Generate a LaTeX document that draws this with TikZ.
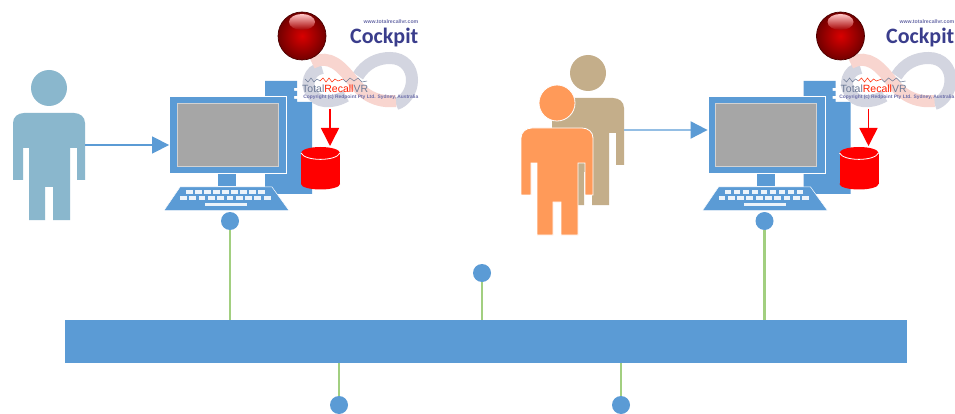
\documentclass[tikz,border=0pt]{standalone}
\usepackage{fontspec}
\setmainfont{Liberation Sans}
\newfontfamily\logofont{Carlito}
\usetikzlibrary{arrows.meta,shadings,shapes.geometric}
\definecolor{pcblue}{HTML}{5B9BD5}
\definecolor{linkgreen}{HTML}{A2CF80}
\definecolor{teal}{HTML}{8AB7CD}
\definecolor{tan}{HTML}{C4AE8A}
\definecolor{orng}{HTML}{FF9A59}
\definecolor{navy}{HTML}{3A3D8C}
\definecolor{infgray}{HTML}{D3D5E0}
\definecolor{infpink}{HTML}{F8D5CF}
\definecolor{wavegray}{HTML}{6C7A96}
\tikzset{
  x=1pt,y=-1pt,
  dot/.style={circle,fill=pcblue,draw=none,minimum size=18pt,inner sep=0pt},
  link/.style={draw=linkgreen,line width=2.2pt},
  flow/.style={draw=pcblue,line width=1.4pt,-{Triangle[length=17pt,width=17pt]}},
  flowlight/.style={draw=pcblue!65,line width=2pt,-{Triangle[length=17pt,width=17pt,color=pcblue]}},
  holder/.style={draw=none,inner sep=0pt},
  logosmall/.style={text=navy!75,inner sep=0pt},
  person/.pic={
    \fill[pic actions] (0,0) circle [radius=18pt];
    \path[pic actions] (-36,35) .. controls (-36,29) and (-31,25) .. (-25,25) -- (25,25)
      .. controls (31,25) and (36,29) .. (36,35) -- (36,92) -- (28,92) -- (28,60) -- (21,60)
      -- (21,132) -- (4,132) -- (4,99) -- (-4,99) -- (-4,132) -- (-20,132) -- (-20,60)
      -- (-26,60) -- (-26,92) -- (-36,92) -- cycle;
    \node[holder,minimum width=72pt,minimum height=107pt] (body) at (0,78.5) {};
  },
  logotext/.pic={
    \node[logosmall,font=\fontsize{5.2}{5.2}\selectfont\bfseries,anchor=east] (web) at (418.5,22) {www.totalrecallvr.com};
    \node[text=navy,inner sep=0pt,font=\logofont\fontsize{22}{22}\selectfont\bfseries,anchor=east] (cockpit) at (418.5,38) {Cockpit};
    \node[logosmall,font=\fontsize{4.9}{4.9}\selectfont\bfseries,anchor=east] (copy) at (418.5,97) {Copyright (c) Redpoint Pty Ltd. Sydney, Australia};
  },
  computer/.pic={
    % tower
    \fill[pcblue] (265,81) -- (297,81) -- (297,88) -- (294,88) -- (294,91) -- (297,91)
      -- (297,96) -- (294,96) -- (294,99) -- (297,99) -- (297,102) -- (312,102) -- (312,194) -- (265,194) -- cycle;
    % monitor
    \node[holder,fill=pcblue,draw=white,line width=0.8pt,minimum width=117pt,minimum height=77pt] (mon) at (228,135) {};
    \fill[gray!70,draw=gray!35,line width=1pt] (177,104) rectangle (278,167);
    \fill[pcblue] (218,174) rectangle (236,186);
    % keyboard
    \fill[pcblue,draw=white,line width=0.5pt] (180,187) -- (272,187) -- (289,210.5) -- (164,210.5) -- cycle;
    \foreach \k in {0,...,8} \fill[white!88!pcblue] ({186+\k*9},190.5) rectangle +(6.5,3.2);
    \foreach \k in {0,...,9} \fill[white!88!pcblue] ({180+\k*9.3},196.5) rectangle +(6.8,3.2);
    \fill[white!88!pcblue] (205,202.5) rectangle (247,206);
    % infinity logo
    \draw[infgray,line width=12pt] (358,76) .. controls (366,63) and (378,58) .. (390,58)
      .. controls (404,58) and (412,68) .. (412,80) .. controls (412,92) and (404,102) .. (396,104);
    \draw[infgray,line width=12pt] (322,68) .. controls (308,70) and (306,86) .. (311,92)
      .. controls (316,103) and (332,104) .. (346,96);
    \draw[infpink,line width=12pt] (312,63) .. controls (330,53) and (342,68) .. (352,80)
      .. controls (362,94) and (376,103) .. (396,101);
    % recording ball
    \shade[shading=radial,inner color=red!85!black,outer color=red!45!black,draw=black!70!red,line width=0.7pt] (302,36) circle [radius=24pt];
    \shade[top color=red!22!white,bottom color=red!65!black,draw=none] (302,22) ellipse [x radius=13pt,y radius=8pt];
    % logo wave and name
    \draw[wavegray,line width=0.5pt] (305,79) -- (308,82) -- (311,78) -- (314,82) -- (317,79) -- (320,81);
    \draw[red!70!orange,line width=0.5pt] (320,81) -- (323,78) -- (326,82) -- (329,78) -- (332,82) -- (335,79) -- (338,81) -- (343,79);
    \draw[wavegray,line width=0.5pt] (343,79) -- (346,82) -- (350,78) -- (354,81) -- (358,78) -- (362,82) -- (367,81);
    \node[inner sep=0pt,anchor=west,font=\fontsize{10.5}{10.5}\selectfont] (tr) at (302,89)
      {\textcolor{wavegray}{Total}\textcolor{red!75!orange}{Recall}\textcolor{wavegray}{VR}};
    % database
    \fill[red] (301,153) rectangle (340,184);
    \fill[red] (320.5,184) ellipse [x radius=19.5pt,y radius=5.5pt];
    \node[holder,fill=red,ellipse,minimum width=39pt,minimum height=12pt] (db) at (320.5,153) {};
    \draw[white,line width=0.8pt] (301,153) .. controls (305,161.5) and (336,161.5) .. (340,153);
    % red arrow into the database
    \coordinate (lg) at (330,109);
    \coordinate (dbtop) at (330,146);
    \draw[red,line width=1.5pt,-{Triangle[length=18pt,width=18pt]}] (lg) -- (dbtop);
  }
}
\begin{document}
\begin{tikzpicture}
\useasboundingbox (0,0) rectangle (955,414);
\fill[white] (0,0) rectangle (955,414);

% bus
\node[holder,fill=pcblue,minimum width=842pt,minimum height=43pt] (bus) at (486,341.5) {};

% taps
\node[dot] (d1) at (230,221) {};
\node[dot] (d2) at (482,273) {};
\node[dot] (d3) at (764.5,221) {};
\node[dot] (d4) at (339,405) {};
\node[dot] (d5) at (621,405) {};
\draw[link] (d1) -- (d1 |- bus.north);
\draw[link] (d2) -- (d2 |- bus.north);
\draw[link] (d3) -- (d3 |- bus.north);
\draw[link] (d4) -- (d4 |- bus.south);
\draw[link] (d5) -- (d5 |- bus.south);

% computers
\pic (a) at (0,0) {computer};
\pic (b) at (538.5,0) {computer};
\pic (al) at (0,0) {logotext};
\pic (bl) at (536,0) {logotext};

% people
\begin{scope}[shift={(49,88)}]
  \pic (u) [fill=teal] at (0,0) {person};
\end{scope}
\begin{scope}[shift={(588,73)}]
  \pic (v) [fill=tan] at (0,0) {person};
\end{scope}
\begin{scope}[shift={(557,103)}]
  \pic (w) [fill=orng,draw=white,line width=0.8pt] at (0,0) {person};
\end{scope}

% arrows
\draw[flow] (ubody.east |- 0,145) -- (amon.west |- 0,145);
\draw[flowlight] (vbody.east |- 0,130) -- (bmon.west |- 0,130);
\end{tikzpicture}
\end{document}
